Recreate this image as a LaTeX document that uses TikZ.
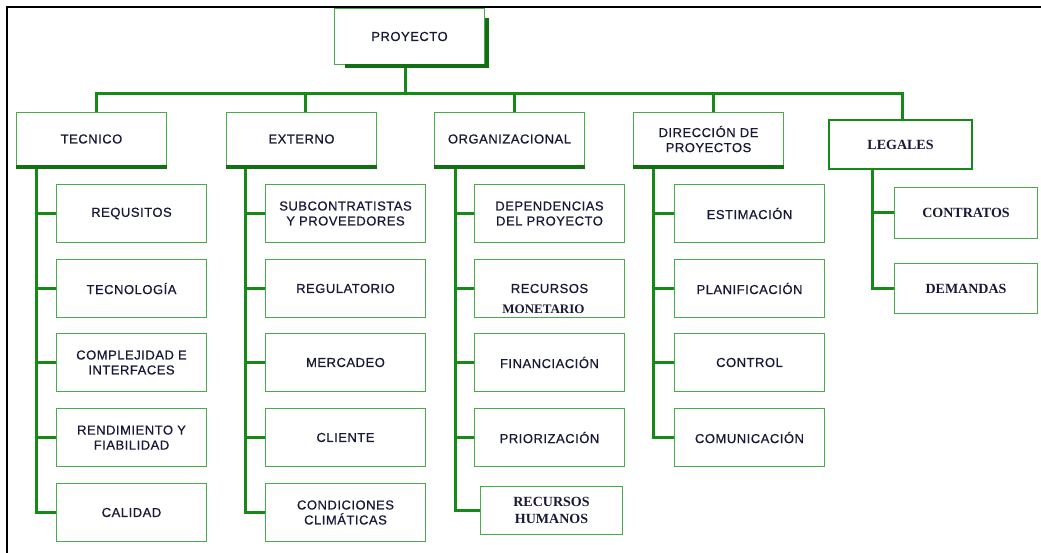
\documentclass[tikz,border=0pt]{standalone}
\usepackage{fontspec}
\setmainfont{Liberation Serif}
\setsansfont{Liberation Sans}[LetterSpace=4,FakeBold=0.6]
\usetikzlibrary{positioning}

\definecolor{boxgreen}{RGB}{72,172,72}
\definecolor{linkgreen}{RGB}{22,138,22}
\definecolor{shadegreen}{RGB}{18,112,18}
\definecolor{inkblue}{RGB}{24,24,56}

\begin{document}
\begin{tikzpicture}[
    x=1pt, y=-1pt,
    box/.style={draw=boxgreen, line width=1pt, fill=white, anchor=north west, align=center, inner sep=2pt,
        text=inkblue, font=\sffamily\fontsize{13}{15}\selectfont},
    area/.style={box, minimum width=150pt, minimum height=53pt},
    sub/.style={box, minimum width=150pt, minimum height=58pt},
    subwide/.style={sub, minimum width=160pt},
    legal/.style={box, draw=linkgreen, line width=2pt, font=\bfseries\fontsize{14}{17}\selectfont},
    serifbox/.style={box, font=\bfseries\fontsize{14}{17}\selectfont},
    link/.style={draw=linkgreen, line width=3pt},
    shade/.style={draw=shadegreen, line width=4pt}
]
\useasboundingbox (0,0) rectangle (1041,553);
% frame
\draw[line width=2pt] (7,553) -- (7,7) -- (1041,7);

% root
\node[box, minimum width=150pt, minimum height=56pt] (proy) at (334,8) {PROYECTO};
\draw[shade] ([yshift=-10pt,xshift=1.5pt]proy.north east) -- ([xshift=1.5pt,yshift=-1.5pt]proy.south east) -- ([xshift=11pt,yshift=-1.5pt]proy.south west);

% areas
\node[area] (tec) at (16,112) {TECNICO};
\node[area] (ext) at (226,112) {EXTERNO};
\node[area] (org) at (434,112) {ORGANIZACIONAL};
\node[area] (dir) at (633,112) {DIRECCIÓN DE\\PROYECTOS};
\node[legal, minimum width=143pt, minimum height=49pt] (leg) at (828,119) {LEGALES};
\foreach \a in {tec,ext,org,dir}
    \draw[shade] ([yshift=-1.5pt]\a.south west) -- ([yshift=-1.5pt]\a.south east);

\coordinate (bus) at ([xshift=-4pt,yshift=-29pt]proy.south);
\draw[link] ([xshift=-4pt,yshift=-3pt]proy.south) -- (bus);
\draw[link] (bus) -| ([xshift=5pt]tec.north);
\draw[link] (bus) -| ([xshift=4pt]ext.north);
\draw[link] (bus) -| ([xshift=5pt]org.north);
\draw[link] (bus) -| ([xshift=5pt]dir.north);
\draw[link] (bus) -| ([xshift=2pt]leg.north);

% TECNICO
\node[sub] (req) at (56,184) {REQUSITOS};
\node[sub] (tecno) at (56,259) {TECNOLOGÍA};
\node[sub] (comp) at (56,333) {COMPLEJIDAD E\\INTERFACES};
\node[sub] (rend) at (56,408) {RENDIMIENTO Y\\FIABILIDAD};
\node[sub] (cal) at (56,483) {CALIDAD};
\coordinate (tecsp) at ([xshift=20pt,yshift=-3pt]tec.south west);
\draw[link] (tecsp) |- (cal.west);
\foreach \s in {req,tecno,comp,rend}
    \draw[link] (\s.west -| tecsp) -- (\s.west);

% EXTERNO
\node[subwide] (subc) at (265,184) {SUBCONTRATISTAS\\Y PROVEEDORES};
\node[subwide] (regu) at (265,259) {REGULATORIO};
\node[subwide] (merc) at (265,333) {MERCADEO};
\node[subwide] (cli) at (265,408) {CLIENTE};
\node[subwide] (cond) at (265,483) {CONDICIONES\\CLIMÁTICAS};
\coordinate (extsp) at ([xshift=19pt,yshift=-3pt]ext.south west);
\draw[link] (extsp) |- (cond.west);
\foreach \s in {subc,regu,merc,cli}
    \draw[link] (\s.west -| extsp) -- (\s.west);

% ORGANIZACIONAL
\node[sub] (dep) at (474,184) {DEPENDENCIAS\\DEL PROYECTO};
\node[sub] (recm) at (474,259) {RECURSOS};
\node[font=\bfseries\fontsize{13}{15}\selectfont, text=inkblue] (mon) at ([xshift=-6pt,yshift=9pt]recm.south) {MONETARIO};
\node[sub] (fin) at (474,333) {FINANCIACIÓN};
\node[sub] (prio) at (474,408) {PRIORIZACIÓN};
\node[serifbox, minimum width=142pt, minimum height=48pt] (rech) at (480,486) {RECURSOS\\HUMANOS};
\coordinate (orgsp) at ([xshift=21pt,yshift=-3pt]org.south west);
\draw[link] (orgsp) |- (rech.west);
\foreach \s in {dep,recm,fin,prio}
    \draw[link] (\s.west -| orgsp) -- (\s.west);

% DIRECCION DE PROYECTOS
\node[sub] (est) at (674,184) {ESTIMACIÓN};
\node[sub] (plan) at (674,259) {PLANIFICACIÓN};
\node[sub] (ctrl) at (674,333) {CONTROL};
\node[sub] (comu) at (674,408) {COMUNICACIÓN};
\coordinate (dirsp) at ([xshift=20pt,yshift=-3pt]dir.south west);
\draw[link] (dirsp) |- (comu.west);
\foreach \s in {est,plan,ctrl}
    \draw[link] (\s.west -| dirsp) -- (\s.west);

% LEGALES
\node[serifbox, minimum width=143pt, minimum height=51pt] (con) at (894,187) {CONTRATOS};
\node[serifbox, minimum width=143pt, minimum height=50pt] (dem) at (894,263) {DEMANDAS};
\coordinate (legsp) at ([xshift=44pt]leg.south west);
\draw[link] (legsp) |- (dem.west);
\draw[link] (con.west -| legsp) -- (con.west);
\end{tikzpicture}
\end{document}
